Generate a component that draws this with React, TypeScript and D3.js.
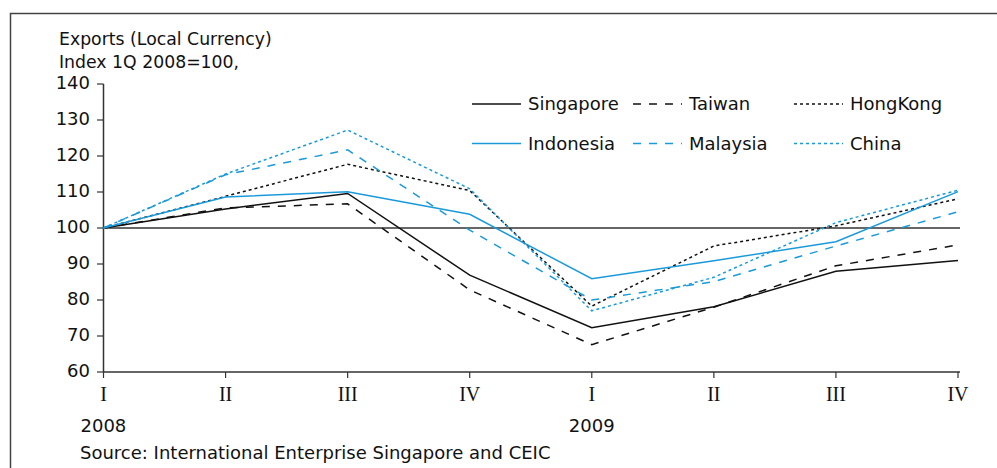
import React from "react";
import * as d3 from "d3";

const quarters = ["I", "II", "III", "IV", "I", "II", "III", "IV"];
const years = [
  { label: "2008", index: 0 },
  { label: "2009", index: 4 },
];
const yTicks = [60, 70, 80, 90, 100, 110, 120, 130, 140];

const singapore = [100, 105.3, 109.6, 86.9, 72.3, 78.1, 88.0, 91.0];
const taiwan = [100, 105.6, 106.7, 82.8, 67.6, 78.0, 89.5, 95.3];
const hongkong = [100, 108.8, 117.7, 110.4, 78.3, 95.0, 100.6, 108.1];
const indonesia = [100, 108.6, 110.1, 103.8, 85.9, 90.9, 96.2, 110.1];
const malaysia = [100, 114.8, 121.7, 99.4, 80.0, 85.1, 95.0, 104.5];
const china = [100, 115.0, 127.2, 110.9, 77.0, 86.3, 101.5, 110.5];

const BLACK = "#111111";
const BLUE = "#1a9ad9";

const series = [
  { name: "Singapore", values: singapore, color: BLACK, dash: "none", col: 0, row: 0 },
  { name: "Taiwan", values: taiwan, color: BLACK, dash: "8,8", col: 1, row: 0 },
  { name: "HongKong", values: hongkong, color: BLACK, dash: "3,3", col: 2, row: 0 },
  { name: "Indonesia", values: indonesia, color: BLUE, dash: "none", col: 0, row: 1 },
  { name: "Malaysia", values: malaysia, color: BLUE, dash: "8,8", col: 1, row: 1 },
  { name: "China", values: china, color: BLUE, dash: "3,3", col: 2, row: 1 },
];

const FONT = "'DejaVu Sans', Verdana, sans-serif";

export default function App() {
  const W = 997;
  const H = 468;
  const x = d3
    .scalePoint<number>()
    .domain(d3.range(quarters.length))
    .range([103.5, 958]);
  const y = d3.scaleLinear().domain([60, 140]).range([372, 84]);
  const line = d3
    .line<number>()
    .x((_, i) => x(i) as number)
    .y((v) => y(v));

  return (
    <svg
      width={W}
      height={H}
      style={{ position: "absolute", left: 0, top: 0, background: "#fff" }}
    >
      {/* frame */}
      <path d={`M10.5,${H} V13.5 H${W}`} fill="none" stroke="#444" strokeWidth={1.5} />

      {/* title */}
      <text x={59} y={45} fontFamily={FONT} fontSize={17.3} fill="#111">
        Exports (Local Currency)
      </text>
      <text x={59} y={67.5} fontFamily={FONT} fontSize={17.3} fill="#111">
        Index 1Q 2008=100,
      </text>

      {/* y axis */}
      <line x1={103.5} x2={103.5} y1={y(140)} y2={y(60)} stroke="#333" strokeWidth={1.5} />
      {yTicks.map((t) => (
        <g key={t}>
          <line x1={97} x2={103.5} y1={y(t)} y2={y(t)} stroke="#333" strokeWidth={1.2} />
          <text
            x={90}
            y={y(t)}
            dy="0.3em"
            textAnchor="end"
            fontFamily={FONT}
            fontSize={18}
            fill="#111"
          >
            {t}
          </text>
        </g>
      ))}

      {/* x axis */}
      <line x1={103.5} x2={960} y1={y(60)} y2={y(60)} stroke="#333" strokeWidth={1.5} />
      {quarters.map((q, i) => (
        <g key={i}>
          <line
            x1={x(i)}
            x2={x(i)}
            y1={y(60)}
            y2={y(60) + 6}
            stroke="#333"
            strokeWidth={1.2}
          />
          <text
            x={x(i)}
            y={401}
            textAnchor="middle"
            fontFamily="'Liberation Serif', 'Times New Roman', serif"
            fontSize={20}
            fill="#111"
          >
            {q}
          </text>
        </g>
      ))}
      {years.map((yr) => (
        <text
          key={yr.label}
          x={(x(yr.index) as number) - 23}
          y={432}
          fontFamily={FONT}
          fontSize={18}
          fill="#111"
        >
          {yr.label}
        </text>
      ))}

      {/* 100 reference line */}
      <line x1={103.5} x2={960} y1={y(100)} y2={y(100)} stroke="#333" strokeWidth={1.5} />

      {/* series */}
      {series.map((s) => (
        <path
          key={s.name}
          d={line(s.values) || ""}
          fill="none"
          stroke={s.color}
          strokeWidth={1.5}
          strokeDasharray={s.dash}
        />
      ))}

      {/* legend */}
      {series.map((s) => {
        const lx = 472 + s.col * 161;
        const ly = 104 + s.row * 39.5;
        return (
          <g key={"lg" + s.name}>
            <line
              x1={lx}
              x2={lx + 49}
              y1={ly}
              y2={ly}
              stroke={s.color}
              strokeWidth={1.5}
              strokeDasharray={s.dash}
            />
            <text
              x={lx + 56}
              y={ly}
              dy="0.36em"
              fontFamily={FONT}
              fontSize={18}
              fill="#111"
            >
              {s.name}
            </text>
          </g>
        );
      })}

      {/* source */}
      <text x={80} y={459} fontFamily={FONT} fontSize={18} fill="#111">
        Source: International Enterprise Singapore and CEIC
      </text>
    </svg>
  );
}
